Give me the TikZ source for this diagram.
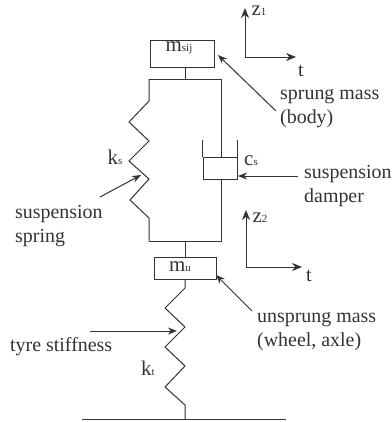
\documentclass[tikz,border=0pt]{standalone}
\usepackage{fontspec}
\setmainfont{Liberation Serif}
\usetikzlibrary{arrows.meta}
\definecolor{ink}{HTML}{333333}
\tikzset{
 x=1bp,y=-1bp,
 wire/.style={draw=ink,line width=1bp,line join=miter},
 pointer/.style={wire,-{Stealth[length=9bp,width=7bp]}},
 axisline/.style={wire,-{Stealth[length=10bp,width=8bp]}},
 massbox/.style={draw=ink,line width=1bp,fill=white,inner sep=0pt,minimum width=#1,anchor=center},
 lbl/.style={inner sep=0pt,font=\fontsize{20}{24}\selectfont,text=ink,align=left},
 sym/.style={inner sep=0pt,text=ink}
}
\newcommand{\symb}[2]{{\fontsize{21}{22}\selectfont #1}{\fontsize{11}{12}\selectfont #2}}
\begin{document}
\begin{tikzpicture}
\useasboundingbox (0,0) rectangle (392,422);
\fill[white] (0,0) rectangle (392,422);
% masses
\node[massbox=63bp,minimum height=27bp] (ms) at (182.5,53.5) {};
\node[massbox=61bp,minimum height=22bp] (mu) at (185.5,268) {};
\node[massbox=34bp,minimum height=22bp] (dmp) at (220,168) {};
% junctions
\coordinate (topL) at (149,79); \coordinate (topM) at (185,79); \coordinate (topR) at (221,79);
\coordinate (botL) at (149,241); \coordinate (botM) at (185,241); \coordinate (botR) at (221,241);
\coordinate (gnd) at (185,419); \coordinate (gl) at (82,419); \coordinate (gr) at (286,419);
\coordinate (mst) at (185,67); \coordinate (mut) at (185,257); \coordinate (mub) at (185,279);
\coordinate (dt) at (221,157); \coordinate (db) at (221,179);
\draw[wire] (mst) -- (topM);
\draw[wire] (topL) -- (topR) -- (dt);
\draw[wire] (db) -- (botR) -- (botL);
\draw[wire] (botM) -- (mut);
\draw[wire] (topL) -- (149,101) -- (129,122) -- (149,141) -- (129,161) -- (149,179) -- (130,200) -- (149,218) -- (botL);
\draw[wire] (mub) -- (185,288) -- (165,308) -- (185,327) -- (165,347) -- (185,366) -- (165,387) -- (185,405) -- (gnd);
\draw[wire] (gl) -- (gr);
\draw[wire] (202,140) -- (202,157);
\draw[wire] (237,140) -- (237,157);
% axes
\coordinate (o1) at (245,57); \coordinate (z1) at (245,8); \coordinate (t1) at (296,57);
\coordinate (o2) at (246,267); \coordinate (z2) at (246,210); \coordinate (t2) at (302,267);
\draw[axisline] (o1) -- (z1);
\draw[axisline] (o1) -- (t1);
\draw[axisline] (o2) -- (z2);
\draw[axisline] (o2) -- (t2);
% text
\node[sym] (mslabel) at (179,48) {\symb{m}{sij}};
\node[sym] (mulabel) at (180,267) {\symb{m}{u}};
\node[sym] (kslabel) at (115,157) {\symb{k}{s}};
\node[sym] (cslabel) at (251,161) {\symb{c}{s}};
\node[sym] (ktlabel) at (148,368) {\symb{k}{t}};
\node[sym] (z1label) at (259,11) {\symb{z}{1}};
\node[sym] (z2label) at (260,218) {\symb{z}{2}};
\node[sym] (t1label) at (301,71) {\fontsize{20}{24}\selectfont t};
\node[sym] (t2label) at (309,276) {\fontsize{20}{24}\selectfont t};
\node[lbl,anchor=north west] (sprung) at (280,89) {sprung mass\\(body)};
\node[lbl,anchor=north west] (damper) at (304,165) {suspension\\damper};
\node[lbl,anchor=north west] (spring) at (15,205) {suspension\\spring};
\node[lbl,anchor=north west] (unsprung) at (257,312) {unsprung mass\\(wheel, axle)};
\node[lbl,anchor=north west] (tyre) at (10,337) {tyre stiffness};
% pointers
\coordinate (p1) at (276,111); \coordinate (p1e) at (218,55);
\coordinate (p2) at (298,176); \coordinate (p2e) at (238,176);
\coordinate (p3) at (100,197); \coordinate (p3e) at (141,175);
\coordinate (p4) at (252,311); \coordinate (p4e) at (216,275);
\coordinate (p5) at (90,331); \coordinate (p5e) at (177,331);
\draw[pointer] (p1) -- (p1e);
\draw[pointer] (p2) -- (p2e);
\draw[pointer] (p3) -- (p3e);
\draw[pointer] (p4) -- (p4e);
\draw[pointer] (p5) -- (p5e);
\end{tikzpicture}
\end{document}
